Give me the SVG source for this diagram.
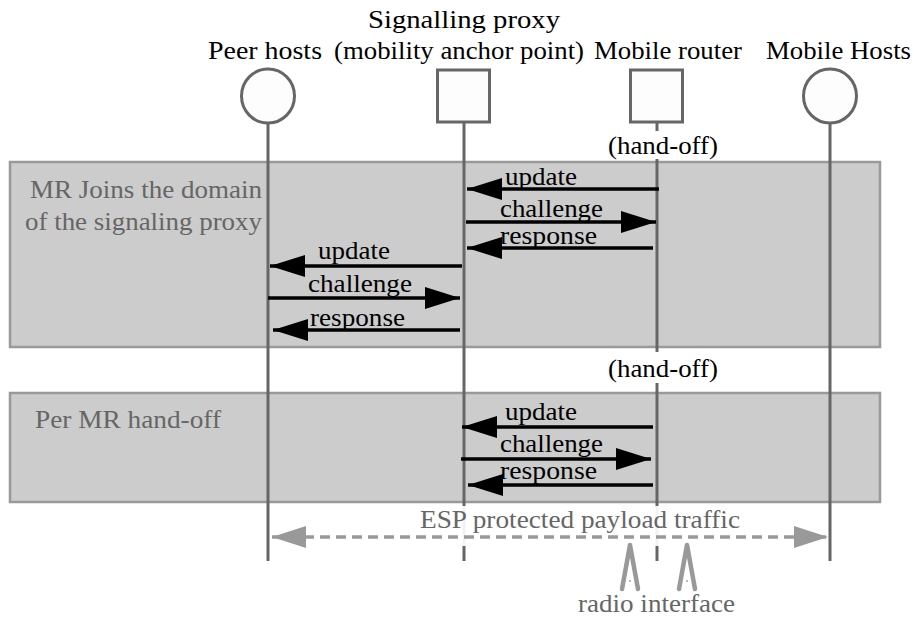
<svg xmlns="http://www.w3.org/2000/svg" width="914" height="621" viewBox="0 0 914 621">
  <style>
    text { font-family: "Liberation Serif", "Times New Roman", serif; font-size: 25px; }
    .dark { fill: #000; }
    .grey { fill: #666; }
    .node { fill: #fdfdfd; stroke: #666; stroke-width: 3; }
    .life { stroke: #666; stroke-width: 3; fill: none; }
    .phase { fill: #cccccc; stroke: #999; stroke-width: 2.5; }
    .msg { stroke: #000; stroke-width: 3.5; fill: none; }
    .esp { stroke: #999; stroke-width: 3.5; stroke-dasharray: 10 6; fill: none; }
    .radio { stroke: #999; stroke-width: 4.5; fill: none; stroke-linecap: round; stroke-linejoin: round; }
  </style>
  <defs>
    <marker id="head" markerUnits="userSpaceOnUse" markerWidth="36" markerHeight="24" refX="35" refY="11" orient="auto" viewBox="0 0 36 24">
      <path d="M0,0 L35,11 L0,22 Z" fill="#000"/>
    </marker>
    <marker id="greyHead" markerUnits="userSpaceOnUse" markerWidth="36" markerHeight="24" refX="34" refY="11" orient="auto-start-reverse" viewBox="0 0 36 24">
      <path d="M0,0 L34,11 L0,22 Z" fill="#999"/>
    </marker>
  </defs>

  <rect width="914" height="621" fill="#fff"/>

  <!-- phase bands -->
  <g id="phase-join">
    <rect class="phase" x="10" y="162" width="870" height="185"/>
    <text class="grey" x="30" y="198" textLength="232" lengthAdjust="spacingAndGlyphs">MR Joins the domain</text>
    <text class="grey" x="25" y="230" textLength="237" lengthAdjust="spacingAndGlyphs">of the signaling proxy</text>
  </g>
  <g id="phase-handoff">
    <rect class="phase" x="10" y="393" width="870" height="109"/>
    <text class="grey" x="35" y="428" textLength="186" lengthAdjust="spacingAndGlyphs">Per MR hand-off</text>
  </g>

  <!-- participants -->
  <g id="peer-hosts">
    <text class="dark" x="208" y="59" textLength="114" lengthAdjust="spacingAndGlyphs">Peer hosts</text>
    <ellipse class="node" cx="268" cy="96" rx="26.5" ry="27"/>
    <line class="life" x1="268" y1="123" x2="268" y2="561"/>
  </g>
  <g id="signalling-proxy">
    <text class="dark" x="368" y="28" textLength="192" lengthAdjust="spacingAndGlyphs">Signalling proxy</text>
    <text class="dark" x="334" y="59" textLength="250" lengthAdjust="spacingAndGlyphs">(mobility anchor point)</text>
    <rect class="node" x="437.5" y="70" width="52" height="52"/>
    <line class="life" x1="464" y1="122" x2="464" y2="561"/>
  </g>
  <g id="mobile-router">
    <text class="dark" x="594" y="59" textLength="148" lengthAdjust="spacingAndGlyphs">Mobile router</text>
    <rect class="node" x="630.5" y="70" width="52" height="52"/>
    <line class="life" x1="657" y1="122" x2="657" y2="131"/>
    <text class="dark" x="608" y="154" textLength="110" lengthAdjust="spacingAndGlyphs">(hand-off)</text>
    <line class="life" x1="657" y1="159" x2="657" y2="352"/>
    <text class="dark" x="608" y="377" textLength="110" lengthAdjust="spacingAndGlyphs">(hand-off)</text>
    <line class="life" x1="657" y1="383" x2="657" y2="561"/>
  </g>
  <g id="mobile-hosts">
    <text class="dark" x="766" y="59" textLength="145" lengthAdjust="spacingAndGlyphs">Mobile Hosts</text>
    <ellipse class="node" cx="830" cy="96" rx="26.5" ry="27"/>
    <line class="life" x1="830" y1="123" x2="830" y2="561"/>
  </g>

  <!-- messages -->
  <g id="connectors">
    <line class="msg" x1="659" y1="189" x2="467" y2="189" marker-end="url(#head)"/>
    <text class="dark" x="505" y="185" textLength="72" lengthAdjust="spacingAndGlyphs">update</text>
    <line class="msg" x1="466" y1="222" x2="656" y2="222" marker-end="url(#head)"/>
    <text class="dark" x="500" y="217" textLength="103" lengthAdjust="spacingAndGlyphs">challenge</text>
    <line class="msg" x1="653" y1="248" x2="467" y2="248" marker-end="url(#head)"/>
    <text class="dark" x="500" y="244" textLength="97" lengthAdjust="spacingAndGlyphs">response</text>

    <line class="msg" x1="462" y1="266" x2="270" y2="266" marker-end="url(#head)"/>
    <text class="dark" x="318" y="259" textLength="72" lengthAdjust="spacingAndGlyphs">update</text>
    <line class="msg" x1="268" y1="298" x2="460" y2="298" marker-end="url(#head)"/>
    <text class="dark" x="308" y="292" textLength="104" lengthAdjust="spacingAndGlyphs">challenge</text>
    <line class="msg" x1="460" y1="330" x2="273" y2="330" marker-end="url(#head)"/>
    <text class="dark" x="310" y="326" textLength="95" lengthAdjust="spacingAndGlyphs">response</text>

    <line class="msg" x1="653" y1="427" x2="462" y2="427" marker-end="url(#head)"/>
    <text class="dark" x="505" y="420" textLength="72" lengthAdjust="spacingAndGlyphs">update</text>
    <line class="msg" x1="461" y1="459" x2="651" y2="459" marker-end="url(#head)"/>
    <text class="dark" x="500" y="452" textLength="103" lengthAdjust="spacingAndGlyphs">challenge</text>
    <line class="msg" x1="653" y1="485" x2="468" y2="485" marker-end="url(#head)"/>
    <text class="dark" x="500" y="479" textLength="97" lengthAdjust="spacingAndGlyphs">response</text>

    <!-- payload traffic -->
    <rect x="418" y="506" width="324" height="40" fill="#fff" fill-opacity="0.92"/>
    <text class="grey" x="420" y="528" textLength="320" lengthAdjust="spacingAndGlyphs">ESP protected payload traffic</text>
    <line class="esp" x1="272" y1="537" x2="828" y2="537" marker-start="url(#greyHead)" marker-end="url(#greyHead)"/>
  </g>

  <!-- radio interface -->
  <g id="radio-interface">
    <polyline class="radio" points="622,589 630,545 638,589"/>
    <polyline class="radio" points="679,589 687,545 695,589"/>
    <line x1="629" y1="581" x2="631" y2="581" stroke="#777" stroke-width="1"/>
    <line x1="686" y1="581" x2="688" y2="581" stroke="#777" stroke-width="1"/>
    <text class="grey" x="578" y="612" textLength="157" lengthAdjust="spacingAndGlyphs">radio interface</text>
  </g>
</svg>
